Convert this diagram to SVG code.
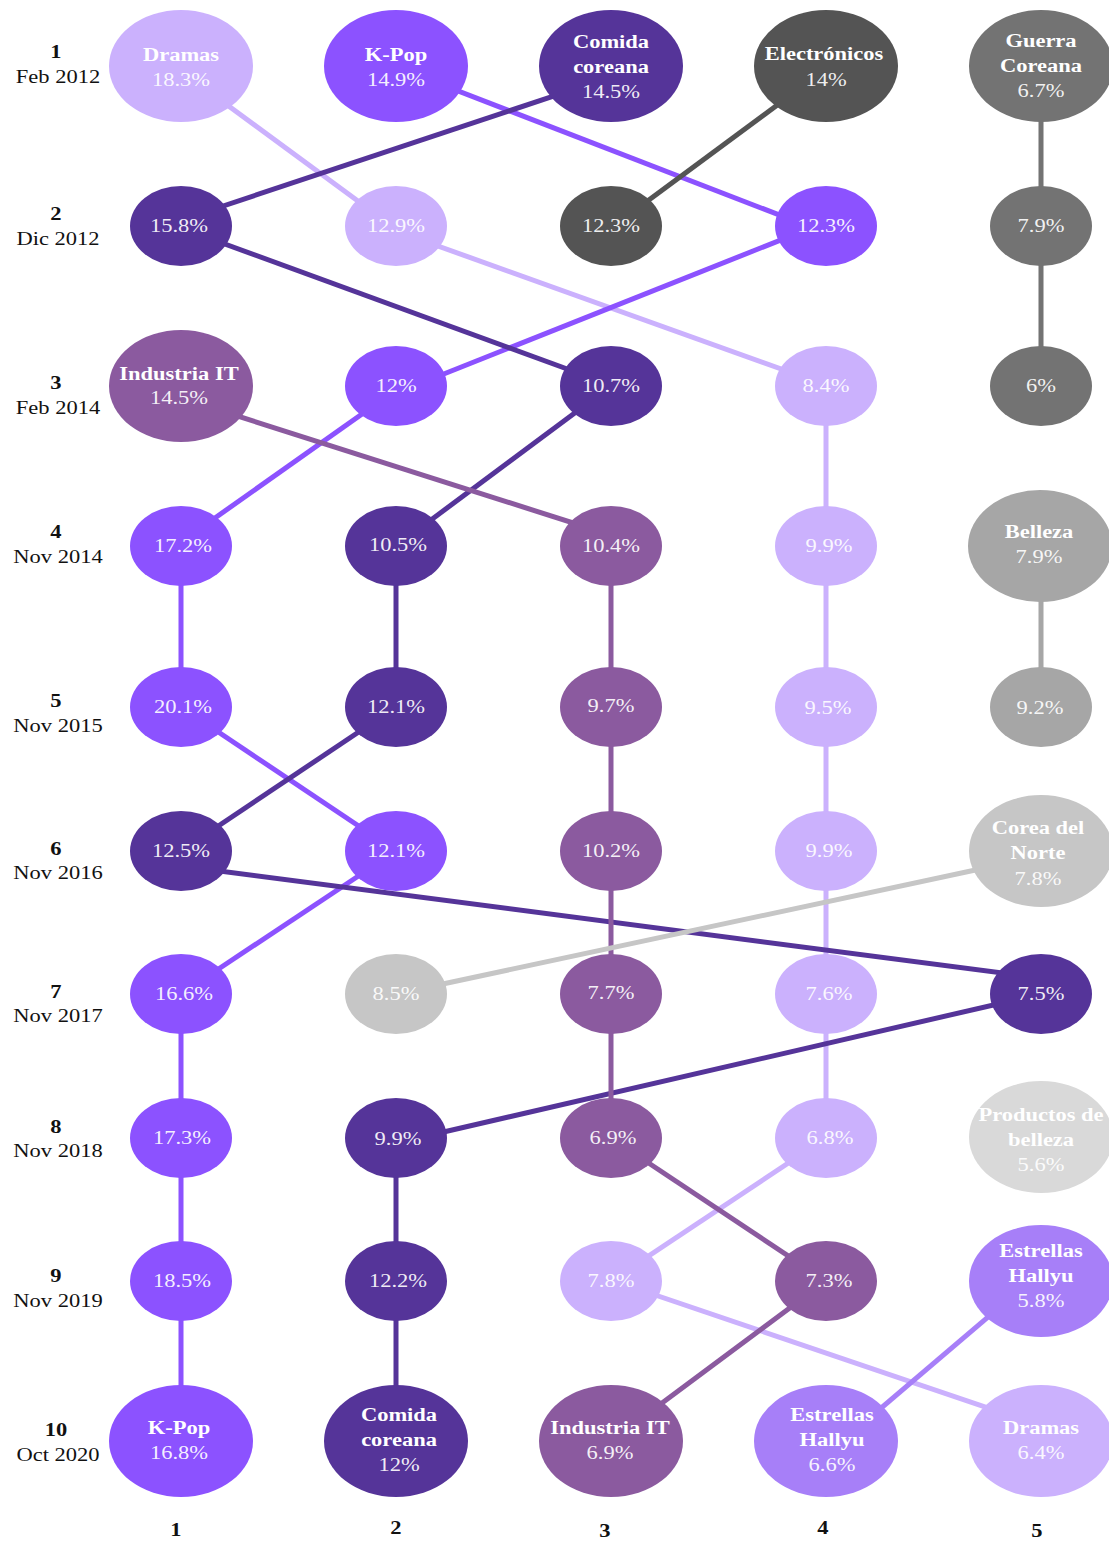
<svg xmlns="http://www.w3.org/2000/svg" width="1109" height="1543" viewBox="0 0 1109 1543">
<style>
text{font-family:"Liberation Serif","Times New Roman",serif;font-size:18px;text-anchor:middle}
.n{font-weight:bold;fill:#fff}
.p{fill:#fff;fill-opacity:.92}
.lb{fill:#111;font-weight:bold}
.ld{fill:#111}
line{stroke-width:5;stroke-linecap:butt}
.c-lav{fill:#CBB1FD}.s-lav{stroke:#CBB1FD}
.c-kp{fill:#8C52FF}.s-kp{stroke:#8C52FF}
.c-cc{fill:#553499}.s-cc{stroke:#553499}
.c-el{fill:#545454}.s-el{stroke:#545454}
.c-gc{fill:#737373}.s-gc{stroke:#737373}
.c-it{fill:#8B5A9F}.s-it{stroke:#8B5A9F}
.c-be{fill:#A6A6A6}.s-be{stroke:#A6A6A6}
.c-cn{fill:#C6C6C6}.s-cn{stroke:#C6C6C6}
.c-pb{fill:#D9D9D9}
.c-hy{fill:#A77FF8}.s-hy{stroke:#A77FF8}
</style>
<rect width="1109" height="1543" fill="#fff"/>

<g id="row-labels">
<text class="lb" transform="translate(56,58) scale(1.25,1)">1</text><text class="ld" transform="translate(58,83) scale(1.25,1)">Feb 2012</text>
<text class="lb" transform="translate(56,220) scale(1.25,1)">2</text><text class="ld" transform="translate(58,245) scale(1.25,1)">Dic 2012</text>
<text class="lb" transform="translate(56,389) scale(1.25,1)">3</text><text class="ld" transform="translate(58,414) scale(1.25,1)">Feb 2014</text>
<text class="lb" transform="translate(56,538) scale(1.25,1)">4</text><text class="ld" transform="translate(58,563) scale(1.25,1)">Nov 2014</text>
<text class="lb" transform="translate(56,707) scale(1.25,1)">5</text><text class="ld" transform="translate(58,732) scale(1.25,1)">Nov 2015</text>
<text class="lb" transform="translate(56,855) scale(1.25,1)">6</text><text class="ld" transform="translate(58,879) scale(1.25,1)">Nov 2016</text>
<text class="lb" transform="translate(56,998) scale(1.25,1)">7</text><text class="ld" transform="translate(58,1022) scale(1.25,1)">Nov 2017</text>
<text class="lb" transform="translate(56,1133) scale(1.25,1)">8</text><text class="ld" transform="translate(58,1157) scale(1.25,1)">Nov 2018</text>
<text class="lb" transform="translate(56,1282) scale(1.25,1)">9</text><text class="ld" transform="translate(58,1307) scale(1.25,1)">Nov 2019</text>
<text class="lb" transform="translate(56,1436) scale(1.25,1)">10</text><text class="ld" transform="translate(58,1461) scale(1.25,1)">Oct 2020</text>
</g>
<g id="col-labels">
<text class="lb" transform="translate(176,1536) scale(1.25,1)">1</text>
<text class="lb" transform="translate(396,1534) scale(1.25,1)">2</text>
<text class="lb" transform="translate(605,1537) scale(1.25,1)">3</text>
<text class="lb" transform="translate(823,1534) scale(1.25,1)">4</text>
<text class="lb" transform="translate(1037,1537) scale(1.25,1)">5</text>
</g>

<g id="connectors">
<!-- Dramas -->
<line class="s-lav" x1="181" y1="71" x2="396" y2="229"/>
<line class="s-lav" x1="396" y1="231" x2="826" y2="385"/>
<line class="s-lav" x1="826" y1="386" x2="826" y2="1138"/>
<line class="s-lav" x1="826" y1="1138" x2="611" y2="1281"/>
<line class="s-lav" x1="611" y1="1280" x2="1041" y2="1426"/>
<!-- K-Pop -->
<line class="s-kp" x1="396" y1="67" x2="826" y2="233"/>
<line class="s-kp" x1="826" y1="222" x2="396" y2="393"/>
<line class="s-kp" x1="396" y1="390" x2="181" y2="542"/>
<line class="s-kp" x1="181" y1="546" x2="181" y2="707"/>
<line class="s-kp" x1="181" y1="707" x2="396" y2="851"/>
<line class="s-kp" x1="396" y1="851" x2="181" y2="994"/>
<line class="s-kp" x1="181" y1="994" x2="181" y2="1441"/>
<!-- Comida coreana -->
<line class="s-cc" x1="181" y1="220" x2="611" y2="77"/>
<line class="s-cc" x1="181" y1="228" x2="611" y2="385"/>
<line class="s-cc" x1="611" y1="386" x2="396" y2="546"/>
<line class="s-cc" x1="396" y1="546" x2="396" y2="707"/>
<line class="s-cc" x1="396" y1="707" x2="181" y2="851"/>
<line class="s-cc" x1="181" y1="866" x2="1041" y2="978"/>
<line class="s-cc" x1="1041" y1="994" x2="396" y2="1143"/>
<line class="s-cc" x1="396" y1="1138" x2="396" y2="1441"/>
<!-- Electronicos -->
<line class="s-el" x1="826" y1="69" x2="611" y2="228"/>
<!-- Guerra Coreana -->
<line class="s-gc" x1="1041" y1="66" x2="1041" y2="386"/>
<!-- Industria IT -->
<line class="s-it" x1="181" y1="398" x2="611" y2="535"/>
<line class="s-it" x1="611" y1="546" x2="611" y2="1138"/>
<line class="s-it" x1="611" y1="1138" x2="826" y2="1281"/>
<line class="s-it" x1="826" y1="1281" x2="611" y2="1441"/>
<!-- Belleza -->
<line class="s-be" x1="1041" y1="546" x2="1041" y2="707"/>
<!-- Corea del Norte -->
<line class="s-cn" x1="1041" y1="856" x2="396" y2="994"/>
<!-- Estrellas Hallyu -->
<line class="s-hy" x1="1041" y1="1272" x2="826" y2="1455"/>
</g>

<!-- Row 1 -->
<g id="r1-dramas"><ellipse class="c-lav" cx="181" cy="66" rx="72" ry="56"/><text class="n" transform="translate(181,61) scale(1.25,1)">Dramas</text><text class="p" transform="translate(181,86) scale(1.25,1)">18.3%</text></g>
<g id="r1-kpop"><ellipse class="c-kp" cx="396" cy="66" rx="72" ry="56"/><text class="n" transform="translate(396,61) scale(1.25,1)">K-Pop</text><text class="p" transform="translate(396,86) scale(1.25,1)">14.9%</text></g>
<g id="r1-comida"><ellipse class="c-cc" cx="611" cy="66" rx="72" ry="56"/><text class="n" transform="translate(611,48) scale(1.25,1)">Comida</text><text class="n" transform="translate(611,73) scale(1.25,1)">coreana</text><text class="p" transform="translate(611,98) scale(1.25,1)">14.5%</text></g>
<g id="r1-electronicos"><ellipse class="c-el" cx="826" cy="66" rx="72" ry="56"/><text class="n" transform="translate(824,60) scale(1.25,1)">Electrónicos</text><text class="p" transform="translate(826,86) scale(1.25,1)">14%</text></g>
<g id="r1-guerra"><ellipse class="c-gc" cx="1041" cy="66" rx="72" ry="56"/><text class="n" transform="translate(1041,47) scale(1.25,1)">Guerra</text><text class="n" transform="translate(1041,72) scale(1.25,1)">Coreana</text><text class="p" transform="translate(1041,97) scale(1.25,1)">6.7%</text></g>

<!-- Row 2 -->
<g id="r2-c1"><ellipse class="c-cc" cx="181" cy="226" rx="51" ry="40"/><text class="p" transform="translate(179,232) scale(1.25,1)">15.8%</text></g>
<g id="r2-c2"><ellipse class="c-lav" cx="396" cy="226" rx="51" ry="40"/><text class="p" transform="translate(396,232) scale(1.25,1)">12.9%</text></g>
<g id="r2-c3"><ellipse class="c-el" cx="611" cy="226" rx="51" ry="40"/><text class="p" transform="translate(611,232) scale(1.25,1)">12.3%</text></g>
<g id="r2-c4"><ellipse class="c-kp" cx="826" cy="226" rx="51" ry="40"/><text class="p" transform="translate(826,232) scale(1.25,1)">12.3%</text></g>
<g id="r2-c5"><ellipse class="c-gc" cx="1041" cy="226" rx="51" ry="40"/><text class="p" transform="translate(1041,232) scale(1.25,1)">7.9%</text></g>

<!-- Row 3 -->
<g id="r3-industria"><ellipse class="c-it" cx="181" cy="386" rx="72" ry="56"/><text class="n" transform="translate(179,380) scale(1.25,1)">Industria IT</text><text class="p" transform="translate(179,404) scale(1.25,1)">14.5%</text></g>
<g id="r3-c2"><ellipse class="c-kp" cx="396" cy="386" rx="51" ry="40"/><text class="p" transform="translate(396,392) scale(1.25,1)">12%</text></g>
<g id="r3-c3"><ellipse class="c-cc" cx="611" cy="386" rx="51" ry="40"/><text class="p" transform="translate(611,392) scale(1.25,1)">10.7%</text></g>
<g id="r3-c4"><ellipse class="c-lav" cx="826" cy="386" rx="51" ry="40"/><text class="p" transform="translate(826,392) scale(1.25,1)">8.4%</text></g>
<g id="r3-c5"><ellipse class="c-gc" cx="1041" cy="386" rx="51" ry="40"/><text class="p" transform="translate(1041,392) scale(1.25,1)">6%</text></g>

<!-- Row 4 -->
<g id="r4-c1"><ellipse class="c-kp" cx="181" cy="546" rx="51" ry="40"/><text class="p" transform="translate(183,552) scale(1.25,1)">17.2%</text></g>
<g id="r4-c2"><ellipse class="c-cc" cx="396" cy="546" rx="51" ry="40"/><text class="p" transform="translate(398,551) scale(1.25,1)">10.5%</text></g>
<g id="r4-c3"><ellipse class="c-it" cx="611" cy="546" rx="51" ry="40"/><text class="p" transform="translate(611,552) scale(1.25,1)">10.4%</text></g>
<g id="r4-c4"><ellipse class="c-lav" cx="826" cy="546" rx="51" ry="40"/><text class="p" transform="translate(829,552) scale(1.25,1)">9.9%</text></g>
<g id="r4-belleza"><ellipse class="c-be" cx="1040" cy="546" rx="72" ry="56"/><text class="n" transform="translate(1039,538) scale(1.25,1)">Belleza</text><text class="p" transform="translate(1039,563) scale(1.25,1)">7.9%</text></g>

<!-- Row 5 -->
<g id="r5-c1"><ellipse class="c-kp" cx="181" cy="707" rx="51" ry="40"/><text class="p" transform="translate(183,713) scale(1.25,1)">20.1%</text></g>
<g id="r5-c2"><ellipse class="c-cc" cx="396" cy="707" rx="51" ry="40"/><text class="p" transform="translate(396,713) scale(1.25,1)">12.1%</text></g>
<g id="r5-c3"><ellipse class="c-it" cx="611" cy="707" rx="51" ry="40"/><text class="p" transform="translate(611,712) scale(1.25,1)">9.7%</text></g>
<g id="r5-c4"><ellipse class="c-lav" cx="826" cy="707" rx="51" ry="40"/><text class="p" transform="translate(828,714) scale(1.25,1)">9.5%</text></g>
<g id="r5-c5"><ellipse class="c-be" cx="1041" cy="707" rx="51" ry="40"/><text class="p" transform="translate(1040,714) scale(1.25,1)">9.2%</text></g>

<!-- Row 6 -->
<g id="r6-c1"><ellipse class="c-cc" cx="181" cy="851" rx="51" ry="40"/><text class="p" transform="translate(181,857) scale(1.25,1)">12.5%</text></g>
<g id="r6-c2"><ellipse class="c-kp" cx="396" cy="851" rx="51" ry="40"/><text class="p" transform="translate(396,857) scale(1.25,1)">12.1%</text></g>
<g id="r6-c3"><ellipse class="c-it" cx="611" cy="851" rx="51" ry="40"/><text class="p" transform="translate(611,857) scale(1.25,1)">10.2%</text></g>
<g id="r6-c4"><ellipse class="c-lav" cx="826" cy="851" rx="51" ry="40"/><text class="p" transform="translate(829,857) scale(1.25,1)">9.9%</text></g>
<g id="r6-corea"><ellipse class="c-cn" cx="1041" cy="851" rx="72" ry="56"/><text class="n" transform="translate(1038,834) scale(1.25,1)">Corea del</text><text class="n" transform="translate(1038,859) scale(1.25,1)">Norte</text><text class="p" transform="translate(1038,885) scale(1.25,1)">7.8%</text></g>

<!-- Row 7 -->
<g id="r7-c1"><ellipse class="c-kp" cx="181" cy="994" rx="51" ry="40"/><text class="p" transform="translate(184,1000) scale(1.25,1)">16.6%</text></g>
<g id="r7-c2"><ellipse class="c-cn" cx="396" cy="994" rx="51" ry="40"/><text class="p" transform="translate(396,1000) scale(1.25,1)">8.5%</text></g>
<g id="r7-c3"><ellipse class="c-it" cx="611" cy="994" rx="51" ry="40"/><text class="p" transform="translate(611,999) scale(1.25,1)">7.7%</text></g>
<g id="r7-c4"><ellipse class="c-lav" cx="826" cy="994" rx="51" ry="40"/><text class="p" transform="translate(829,1000) scale(1.25,1)">7.6%</text></g>
<g id="r7-c5"><ellipse class="c-cc" cx="1041" cy="994" rx="51" ry="40"/><text class="p" transform="translate(1041,1000) scale(1.25,1)">7.5%</text></g>

<!-- Row 8 -->
<g id="r8-c1"><ellipse class="c-kp" cx="181" cy="1138" rx="51" ry="40"/><text class="p" transform="translate(182,1144) scale(1.25,1)">17.3%</text></g>
<g id="r8-c2"><ellipse class="c-cc" cx="396" cy="1138" rx="51" ry="40"/><text class="p" transform="translate(398,1145) scale(1.25,1)">9.9%</text></g>
<g id="r8-c3"><ellipse class="c-it" cx="611" cy="1138" rx="51" ry="40"/><text class="p" transform="translate(613,1144) scale(1.25,1)">6.9%</text></g>
<g id="r8-c4"><ellipse class="c-lav" cx="826" cy="1138" rx="51" ry="40"/><text class="p" transform="translate(830,1144) scale(1.25,1)">6.8%</text></g>
<g id="r8-productos"><ellipse class="c-pb" cx="1041" cy="1137" rx="72" ry="56"/><text class="n" transform="translate(1041,1121) scale(1.25,1)">Productos de</text><text class="n" transform="translate(1041,1146) scale(1.25,1)">belleza</text><text class="p" transform="translate(1041,1171) scale(1.25,1)">5.6%</text></g>

<!-- Row 9 -->
<g id="r9-c1"><ellipse class="c-kp" cx="181" cy="1281" rx="51" ry="40"/><text class="p" transform="translate(182,1287) scale(1.25,1)">18.5%</text></g>
<g id="r9-c2"><ellipse class="c-cc" cx="396" cy="1281" rx="51" ry="40"/><text class="p" transform="translate(398,1287) scale(1.25,1)">12.2%</text></g>
<g id="r9-c3"><ellipse class="c-lav" cx="611" cy="1281" rx="51" ry="40"/><text class="p" transform="translate(611,1287) scale(1.25,1)">7.8%</text></g>
<g id="r9-c4"><ellipse class="c-it" cx="826" cy="1281" rx="51" ry="40"/><text class="p" transform="translate(829,1287) scale(1.25,1)">7.3%</text></g>
<g id="r9-hallyu"><ellipse class="c-hy" cx="1041" cy="1281" rx="72" ry="56"/><text class="n" transform="translate(1041,1257) scale(1.25,1)">Estrellas</text><text class="n" transform="translate(1041,1282) scale(1.25,1)">Hallyu</text><text class="p" transform="translate(1041,1307) scale(1.25,1)">5.8%</text></g>

<!-- Row 10 -->
<g id="r10-kpop"><ellipse class="c-kp" cx="181" cy="1441" rx="72" ry="56"/><text class="n" transform="translate(179,1434) scale(1.25,1)">K-Pop</text><text class="p" transform="translate(179,1459) scale(1.25,1)">16.8%</text></g>
<g id="r10-comida"><ellipse class="c-cc" cx="396" cy="1441" rx="72" ry="56"/><text class="n" transform="translate(399,1421) scale(1.25,1)">Comida</text><text class="n" transform="translate(399,1446) scale(1.25,1)">coreana</text><text class="p" transform="translate(399,1471) scale(1.25,1)">12%</text></g>
<g id="r10-industria"><ellipse class="c-it" cx="611" cy="1441" rx="72" ry="56"/><text class="n" transform="translate(610,1434) scale(1.25,1)">Industria IT</text><text class="p" transform="translate(610,1459) scale(1.25,1)">6.9%</text></g>
<g id="r10-hallyu"><ellipse class="c-hy" cx="826" cy="1441" rx="72" ry="56"/><text class="n" transform="translate(832,1421) scale(1.25,1)">Estrellas</text><text class="n" transform="translate(832,1446) scale(1.25,1)">Hallyu</text><text class="p" transform="translate(832,1471) scale(1.25,1)">6.6%</text></g>
<g id="r10-dramas"><ellipse class="c-lav" cx="1041" cy="1441" rx="72" ry="56"/><text class="n" transform="translate(1041,1434) scale(1.25,1)">Dramas</text><text class="p" transform="translate(1041,1459) scale(1.25,1)">6.4%</text></g>
</svg>
